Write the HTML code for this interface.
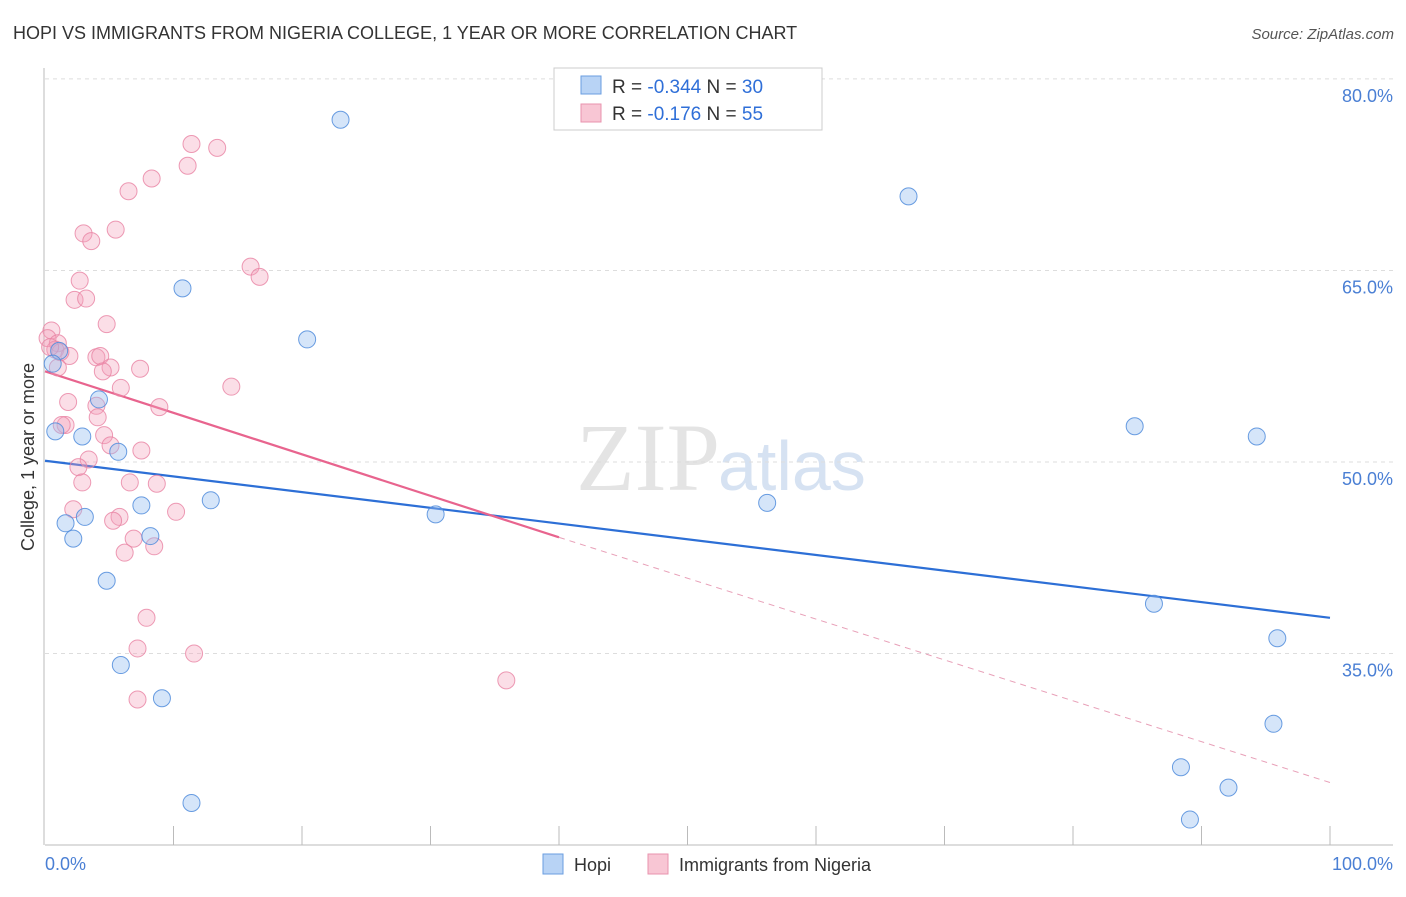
<!DOCTYPE html>
<html><head><meta charset="utf-8"><style>
body{margin:0;background:#fff;font-family:"Liberation Sans",sans-serif;}
</style></head><body>
<svg id="chart" width="1406" height="892" xmlns="http://www.w3.org/2000/svg" font-family="Liberation Sans, sans-serif">
<text x="13" y="39" font-size="18" fill="#333">HOPI VS IMMIGRANTS FROM NIGERIA COLLEGE, 1 YEAR OR MORE CORRELATION CHART</text>
<text x="1394" y="39" font-size="15" fill="#555" font-style="italic" text-anchor="end">Source: ZipAtlas.com</text>
<text x="720" y="490" font-size="96" fill="#e4e4e4" text-anchor="end" font-family="Liberation Serif, serif">ZIP</text>
<text x="718" y="490" font-size="70" fill="#d6e2f2">atlas</text>
<g id="grid"></g>
<line x1="45" y1="845" x2="1393" y2="845" stroke="#bbb"/>
<line x1="44" y1="68" x2="44" y2="845" stroke="#bbb"/>
<text transform="translate(34,457) rotate(-90)" font-size="18" fill="#333" text-anchor="middle">College, 1 year or more</text>
<text x="45" y="870" font-size="18" fill="#4a7fd4">0.0%</text>
<text x="1393" y="870" font-size="18" fill="#4a7fd4" text-anchor="end">100.0%</text>
<g id="lines"></g>
<g id="points"></g>
<g>
<rect x="554" y="68" width="268" height="62" fill="#fff" stroke="#ccc"/>
<rect x="581" y="76" width="20" height="18" fill="#b8d3f5" stroke="#6a9ee0"/>
<rect x="581" y="104" width="20" height="18" fill="#f8c6d4" stroke="#e893ae"/>
<text x="612" y="93" font-size="19" fill="#333">R = <tspan fill="#2f6fd8">-0.344</tspan>   N = <tspan fill="#2f6fd8">30</tspan></text>
<text x="612" y="120" font-size="19" fill="#333">R =  <tspan fill="#2f6fd8"> -0.176</tspan>   N = <tspan fill="#2f6fd8">55</tspan></text>
</g>
<g>
<rect x="543" y="854" width="20" height="20" fill="#b8d3f5" stroke="#6a9ee0"/>
<text x="574" y="871" font-size="18" fill="#333">Hopi</text>
<rect x="648" y="854" width="20" height="20" fill="#f8c6d4" stroke="#e893ae"/>
<text x="679" y="871" font-size="18" fill="#333">Immigrants from Nigeria</text>
</g>
</svg>
<script>
const yTicks=[35,50,65,80];
const xTickCount=10;
const hopiX=[23.0,67.2,10.7,20.4,4.2,0.8,2.9,5.7,84.8,94.3,12.9,7.5,30.4,56.2,1.6,3.1,2.2,8.2,4.8,86.3,95.9,5.9,9.1,95.6,88.4,92.1,11.4,89.1,1.1,0.6];
const hopiY=[76.8,70.8,63.6,59.6,54.9,52.4,52.0,50.8,52.8,52.0,47.0,46.6,45.9,46.8,45.2,45.7,44.0,44.2,40.7,38.9,36.2,34.1,31.5,29.5,26.1,24.5,23.3,22.0,58.7,57.7];
const nigX=[11.4,13.4,11.1,8.3,6.5,5.5,3.0,3.6,16.0,16.7,2.7,2.3,3.2,4.8,0.5,0.2,1.0,0.8,1.9,4.0,4.3,5.1,4.5,7.4,1.0,5.9,14.5,1.8,4.0,8.9,4.1,1.6,1.3,4.6,5.1,7.5,3.4,2.6,2.9,6.6,8.7,2.2,10.2,5.8,5.3,6.9,6.2,8.5,7.9,7.2,11.6,7.2,35.9,1.2,0.4];
const nigY=[74.9,74.6,73.2,72.2,71.2,68.2,67.9,67.3,65.3,64.5,64.2,62.7,62.8,60.8,60.3,59.7,59.3,58.8,58.3,58.2,58.3,57.4,57.1,57.3,57.4,55.8,55.9,54.7,54.4,54.3,53.5,52.9,52.9,52.1,51.3,50.9,50.2,49.6,48.4,48.4,48.3,46.3,46.1,45.7,45.4,44.0,42.9,43.4,37.8,35.4,35.0,31.4,32.9,58.6,59.0];
const hopiLine=[[0,50.1],[100,37.8]];
const nigSolid=[[0,57.1],[40,44.1]];
const nigDash=[[40,44.1],[100,24.9]];
const X=v=>45+v*12.85, Y=v=>462-(v-50)*12.77;
const NS='http://www.w3.org/2000/svg';
function mk(t,a,p){const e=document.createElementNS(NS,t);for(const k in a)e.setAttribute(k,a[k]);p.appendChild(e);return e;}
const grid=document.getElementById('grid');
yTicks.forEach(t=>{
 const l=mk('line',{x1:45,x2:1393,y1:Y(t),y2:Y(t),stroke:'#ddd','stroke-dasharray':'4,4'},grid);
 
 
 const tx=mk('text',{x:1393,y:Y(t)+23,'font-size':18,fill:'#4a7fd4','text-anchor':'end'},grid);
 tx.textContent=t.toFixed(1)+'%';
 
 
});
for(let i=1;i<=xTickCount;i++){
 const l=mk('line',{x1:X(i*10),x2:X(i*10),y1:826,y2:845,stroke:'#bbb'},grid);
 
 
}
const lg=document.getElementById('lines');
function seg(d,c,w,dash,name){const l=mk('line',{x1:X(d[0][0]),y1:Y(d[0][1]),x2:X(d[1][0]),y2:Y(d[1][1]),stroke:c,'stroke-width':w},lg);if(dash)l.setAttribute('stroke-dasharray',dash);
 
 }
seg(hopiLine,'#2d6fd6',2.2,null,'hopi-trend-line');
seg(nigSolid,'#e8648e',2.2,null,'nigeria-trend-line');
seg(nigDash,'#e8a0b8',1,'6,5','nigeria-trend-extension');
const pg=document.getElementById('points');
nigX.forEach((x,i)=>{const c=mk('circle',{cx:X(x),cy:Y(nigY[i]),r:8.5,fill:'rgba(244,160,186,0.35)',stroke:'rgba(232,130,162,0.8)','stroke-width':1},pg);
 
 });
hopiX.forEach((x,i)=>{const c=mk('circle',{cx:X(x),cy:Y(hopiY[i]),r:8.5,fill:'rgba(150,190,240,0.4)',stroke:'rgba(80,140,220,0.85)','stroke-width':1},pg);
 
 });
</script>
</body></html>
